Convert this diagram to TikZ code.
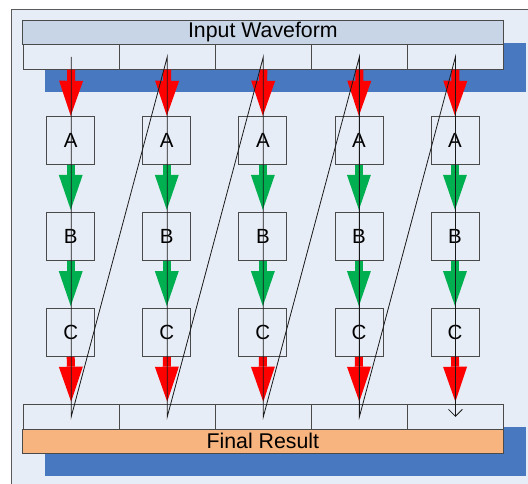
\documentclass[tikz,border=0pt]{standalone}
\usepackage{fontspec}
\setmainfont{Liberation Sans}
\usetikzlibrary{arrows.meta}

\definecolor{panel}{HTML}{E7EDF7}
\definecolor{panelline}{HTML}{5A5A5A}
\definecolor{hdrfill}{HTML}{C8D5E6}
\definecolor{shade}{HTML}{4878C0}
\definecolor{resfill}{HTML}{F8B47E}
\definecolor{boxline}{HTML}{4A4A4A}
\definecolor{flowred}{HTML}{FF0000}
\definecolor{flowgreen}{HTML}{00B050}

\tikzset{
  bar/.style={draw=boxline, line width=0.9pt, minimum width=480.3pt,
    minimum height=24pt, inner sep=0pt, font=\fontsize{21.3}{22}\selectfont},
  cell/.style={draw=boxline, line width=0.9pt, minimum width=96.06pt,
    minimum height=24.3pt, inner sep=0pt, fill=panel},
  stage/.style={draw=boxline, line width=0.8pt, fill=panel, minimum size=48pt,
    inner sep=0pt, font=\fontsize{20.5}{22}\selectfont},
  shadow/.style={fill=shade},
  blockarrow/.style={line width=8pt, draw=#1,
    -{Triangle[width=24pt,length=35pt,line width=0pt,fill=#1]}},
  trace/.style={draw=black!90, line width=0.8pt}
}

\begin{document}
\begin{tikzpicture}[x=1pt, y=-1pt]
  \clip (0,0) rectangle (528,484);
  \fill[white] (0,0) rectangle (528,484);
  % outer panel, running off the right and bottom edges
  \draw[panelline, fill=panel, line width=0.9pt] (11,9) rectangle (560,520);

  % header: shadow, title bar and its five cells
  \fill[shadow] (45,43) rectangle (526,91.7);
  \node[bar, fill=hdrfill] (inbar) at (262.85,32.35) {Input Waveform};
  \foreach \i in {1,...,5} {
    \node[cell, anchor=north west] (top\i) at ({22.7+96.06*(\i-1)},44.35) {};
  }

  % footer: shadow, cells and result bar
  \fill[shadow] (45,426.7) rectangle (526,475.7);
  \foreach \i in {1,...,5} {
    \node[cell, anchor=north west] (bot\i) at ({22.7+96.06*(\i-1)},404.3) {};
  }
  \node[bar, fill=resfill, anchor=north] (outbar) at (262.85,428.6) {Final Result};

  % processing stages A, B, C in each column, with the flow between them
  \foreach \i in {1,...,5} {
    \node[stage] (a\i) at ({22.7+96.06*(\i-0.5)},140.2) {A};
    \node[stage] (b\i) at ({22.7+96.06*(\i-0.5)},236.2) {B};
    \node[stage] (c\i) at ({22.7+96.06*(\i-0.5)},332.4) {C};
    \draw[blockarrow=flowred] (top\i.south) -- (a\i.north);
    \draw[blockarrow=flowgreen, shorten >=2pt] (a\i.south) -- (b\i.north);
    \draw[blockarrow=flowgreen, shorten >=2pt] (b\i.south) -- (c\i.north);
    \draw[blockarrow=flowred, shorten >=2.6pt] (c\i.south) -- (bot\i.north);
  }

  % sample trace running down each column and back up to the next
  \draw[trace, -{Straight Barb[width=14pt,length=7pt]}]
    (top1.center) -- (bot1.center) -- (top2.center) -- (bot2.center)
    -- (top3.center) -- (bot3.center) -- (top4.center) -- (bot4.center)
    -- (top5.center) -- (bot5.center);
\end{tikzpicture}
\end{document}
